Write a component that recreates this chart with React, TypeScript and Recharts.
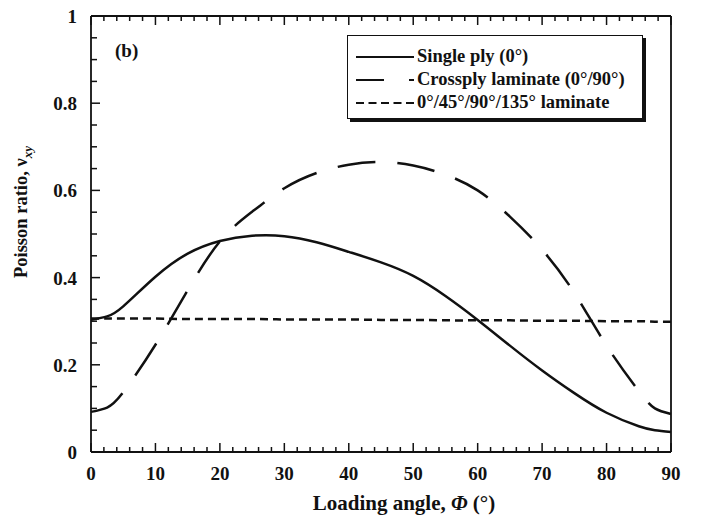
import React from 'react';
import { LineChart, Line, XAxis, YAxis, Legend, Customized } from 'recharts';

const angles = [0, 2.5, 5, 10, 15, 20, 25, 30, 35, 40, 45, 50, 55, 60, 65, 70, 75, 80, 85, 87.5, 90];
const singlePly = [0.303, 0.311, 0.334, 0.402, 0.455, 0.484, 0.496, 0.495, 0.481, 0.459, 0.435, 0.404, 0.358, 0.303, 0.244, 0.187, 0.135, 0.09, 0.059, 0.05, 0.046];
const crossply = [0.092, 0.102, 0.137, 0.246, 0.371, 0.483, 0.551, 0.605, 0.64, 0.659, 0.665, 0.657, 0.636, 0.6, 0.54, 0.464, 0.365, 0.244, 0.14, 0.1, 0.087];
const quasiIso = [0.306, 0.306, 0.306, 0.306, 0.305, 0.305, 0.305, 0.304, 0.304, 0.304, 0.303, 0.303, 0.302, 0.302, 0.302, 0.301, 0.301, 0.3, 0.3, 0.299, 0.299];

const xTicks = [0, 2, 4, 6, 8, 10, 12, 14, 16, 18, 20, 22, 24, 26, 28, 30, 32, 34, 36, 38, 40, 42, 44, 46, 48, 50, 52, 54, 56, 58, 60, 62, 64, 66, 68, 70, 72, 74, 76, 78, 80, 82, 84, 86, 88, 90];
const yTicks = [0, 0.05, 0.1, 0.15, 0.2, 0.25, 0.3, 0.35, 0.4, 0.45, 0.5, 0.55, 0.6, 0.65, 0.7, 0.75, 0.8, 0.85, 0.9, 0.95, 1];
const xLabels = [0, 10, 20, 30, 40, 50, 60, 70, 80, 90];
const yLabels = ['0', '0.2', '0.4', '0.6', '0.8', '1'];

const seriesNames = ['Single ply (0°)', 'Crossply laminate (0°/90°)', '0°/45°/90°/135° laminate'];

const data = angles.map((a, i) => ({
  angle: a,
  single: singlePly[i],
  cross: crossply[i],
  quasi: quasiIso[i],
}));

const ink = '#111';
const font = '"Liberation Serif", "DejaVu Serif", serif';

const isMajorX = (v: number) => v % 10 === 0;
const isMajorY = (v: number) => Math.round(v * 100) % 20 === 0;

const BottomTick = (props: any) => {
  const { x, y, payload } = props;
  const v = payload.value;
  const len = isMajorX(v) ? 9 : 5;
  return (
    <g>
      <line x1={x} y1={y} x2={x} y2={y - len} stroke={ink} strokeWidth={1.5} />
      {xLabels.includes(v) && (
        <text x={x} y={y + 28} textAnchor="middle" fontFamily={font} fontWeight="bold" fontSize={19} fill={ink}>
          {v}
        </text>
      )}
    </g>
  );
};

const TopTick = (props: any) => {
  const { x, y, payload } = props;
  const len = isMajorX(payload.value) ? 9 : 5;
  return <line x1={x} y1={y} x2={x} y2={y + len} stroke={ink} strokeWidth={1.5} />;
};

const LeftTick = (props: any) => {
  const { x, y, payload } = props;
  const v = payload.value;
  const major = isMajorY(v);
  const idx = Math.round(v * 5);
  return (
    <g>
      <line x1={x} y1={y} x2={x + (major ? 9 : 6)} y2={y} stroke={ink} strokeWidth={1.5} />
      {major && (
        <text x={x - 14} y={y + 7} textAnchor="end" fontFamily={font} fontWeight="bold" fontSize={19} fill={ink}>
          {yLabels[idx]}
        </text>
      )}
    </g>
  );
};

const RightTick = (props: any) => {
  const { x, y, payload } = props;
  const len = isMajorY(payload.value) ? 9 : 6;
  return <line x1={x} y1={y} x2={x - len} y2={y} stroke={ink} strokeWidth={1.5} />;
};

const Annotations = () => (
  <g fontFamily={font} fontWeight="bold" fill={ink}>
    <text x={115} y={57} fontSize={19}>(b)</text>
    <text x={404} y={510} fontSize={21} textAnchor="middle">
      Loading angle, <tspan fontStyle="italic">Φ</tspan> (°)
    </text>
    <g transform="translate(27, 212) rotate(-90)">
      <text x={0} y={0} fontSize={18.5} textAnchor="middle">
        Poisson ratio, ν<tspan fontSize={13} fontStyle="italic" dy={5}>xy</tspan>
      </text>
    </g>
  </g>
);

const dashes = ['', '28 25 6', '8 4.5'];

const LegendBox = () => (
  <div
    style={{
      border: `1.5px solid ${ink}`,
      boxShadow: `3px 3px 0 ${ink}`,
      background: '#fff',
      padding: '9px 8px 4px 8px',
      width: 278,
      fontFamily: font,
      fontWeight: 'bold',
      fontSize: 18.5,
      lineHeight: '23px',
      color: ink,
      textAlign: 'left',
      whiteSpace: 'nowrap',
    }}
  >
    {seriesNames.map((name, i) => (
      <div key={name} style={{ display: 'flex', alignItems: 'center', height: 23 }}>
        <svg width={58} height={8} style={{ marginRight: 3, flexShrink: 0 }}>
          <line x1={0} y1={4} x2={58} y2={4} stroke={ink} strokeWidth={2.2} strokeDasharray={dashes[i] || undefined} />
        </svg>
        <span>{name}</span>
      </div>
    ))}
  </div>
);

export default function App() {
  return (
    <div style={{ position: 'absolute', left: 0, top: 0, width: 704, height: 517, background: '#fff' }}>
      <LineChart width={704} height={517} data={data} margin={{ top: 6, right: 23, bottom: 25, left: 31 }}>
        <XAxis
          dataKey="angle"
          type="number"
          domain={[0, 90]}
          ticks={xTicks}
          interval={0}
          tickSize={0}
          tickMargin={0}
          height={40}
          axisLine={{ stroke: ink, strokeWidth: 1.8 }}
          tickLine={false}
          tick={BottomTick}
        />
        <XAxis
          xAxisId="top"
          orientation="top"
          dataKey="angle"
          type="number"
          domain={[0, 90]}
          ticks={xTicks}
          interval={0}
          tickSize={0}
          tickMargin={0}
          height={10}
          axisLine={{ stroke: ink, strokeWidth: 1.8 }}
          tickLine={false}
          tick={TopTick}
        />
        <YAxis
          type="number"
          domain={[0, 1]}
          ticks={yTicks}
          interval={0}
          tickSize={0}
          tickMargin={0}
          width={60}
          axisLine={{ stroke: ink, strokeWidth: 1.8 }}
          tickLine={false}
          tick={LeftTick}
        />
        <YAxis
          yAxisId="right"
          orientation="right"
          type="number"
          domain={[0, 1]}
          ticks={yTicks}
          interval={0}
          tickSize={0}
          tickMargin={0}
          width={10}
          axisLine={{ stroke: ink, strokeWidth: 1.8 }}
          tickLine={false}
          tick={RightTick}
        />
        <Legend
          content={<LegendBox />}
          layout="horizontal"
          verticalAlign="middle"
          align="center"
          wrapperStyle={{ left: 347, top: 35, width: 'auto', height: 'auto' }}
        />
        <Line dataKey="single" name={seriesNames[0]} type="natural" stroke={ink} strokeWidth={2.5} dot={false} isAnimationActive={false} />
        <Line dataKey="cross" name={seriesNames[1]} type="natural" stroke={ink} strokeWidth={2.5} strokeDasharray="38 22" dot={false} isAnimationActive={false} />
        <Line dataKey="quasi" name={seriesNames[2]} type="natural" stroke={ink} strokeWidth={2.5} strokeDasharray="8 5" dot={false} isAnimationActive={false} />
        <Customized component={Annotations} />
      </LineChart>
    </div>
  );
}
